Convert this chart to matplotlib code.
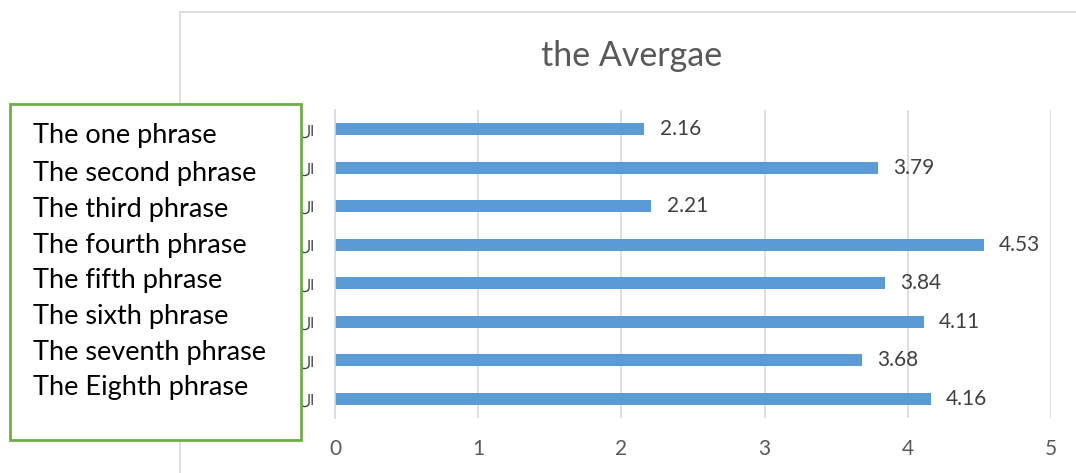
import matplotlib
matplotlib.use("Agg")
import matplotlib.pyplot as plt
from matplotlib.patches import Rectangle
from matplotlib.lines import Line2D

title = "the Avergae"
phrases = ["The one phrase", "The second phrase", "The third phrase", "The fourth phrase",
           "The fifth phrase", "The sixth phrase", "The seventh phrase", "The Eighth phrase"]
values = [2.16, 3.79, 2.21, 4.53, 3.84, 4.11, 3.68, 4.16]
ytick_labels = ["لا"] * 8
xticks = [0, 1, 2, 3, 4, 5]

W, H = 1076, 473
fig = plt.figure(figsize=(W / 100, H / 100), dpi=100)
fig.patch.set_facecolor("white")

def fx(px):
    return px / W

def fy(py):
    return 1 - py / H

# chart frame (top and left edges)
fig.add_artist(Line2D([fx(180), fx(1076)], [fy(12), fy(12)], color="#D9D9D9", lw=1.2))
fig.add_artist(Line2D([fx(180), fx(180)], [fy(12), fy(473)], color="#D9D9D9", lw=1.2))

ax = fig.add_axes([fx(335), fy(418), fx(1051) - fx(335), (418 - 110) / H])
n = len(values)
pos = list(range(n))
ax.barh(pos, values, height=0.31, color="#5B9BD5", zorder=3)
ax.set_xlim(0, 5)
ax.set_ylim(n - 0.5, -0.5)
ax.set_xticks(xticks)
ax.set_xticklabels([str(t) for t in xticks], fontsize=15, color="#595959", family="Lato")
ax.set_yticks(pos)
ax.set_yticklabels(ytick_labels, fontsize=11, color="#404040", family=["DejaVu Sans"])
ax.tick_params(axis="both", length=0)
ax.tick_params(axis="x", pad=15)
ax.tick_params(axis="y", pad=14)
ax.grid(axis="x", color="#D9D9D9", lw=1.2, zorder=0)
for s in ["top", "right", "bottom"]:
    ax.spines[s].set_visible(False)
ax.spines["left"].set_color("#D9D9D9")
ax.spines["left"].set_linewidth(1.2)
ax.spines["left"].set_zorder(4)

for p, v in zip(pos, values):
    ax.annotate(f"{v:.2f}", xy=(v, p), xytext=(11, 0), textcoords="offset points",
                va="center", ha="left", fontsize=15, color="#404040", family="Lato")

fig.text(fx(632), fy(56), title, ha="center", va="center", fontsize=24.5, color="#595959", family="Lato")

# green text box overlay
fig.add_artist(Rectangle((fx(10), fy(440)), fx(301) - fx(10), (440 - 104) / H,
                         facecolor="white", edgecolor="#70AD47", lw=2, zorder=10,
                         transform=fig.transFigure))
ys = [136, 173, 209, 245, 280, 316, 352, 388]
for t, y in zip(phrases, ys):
    fig.text(fx(33), fy(y), t, ha="left", va="center", fontsize=19.5, color="black",
             family="Lato", zorder=11)

fig.savefig("out.png", dpi=100)
